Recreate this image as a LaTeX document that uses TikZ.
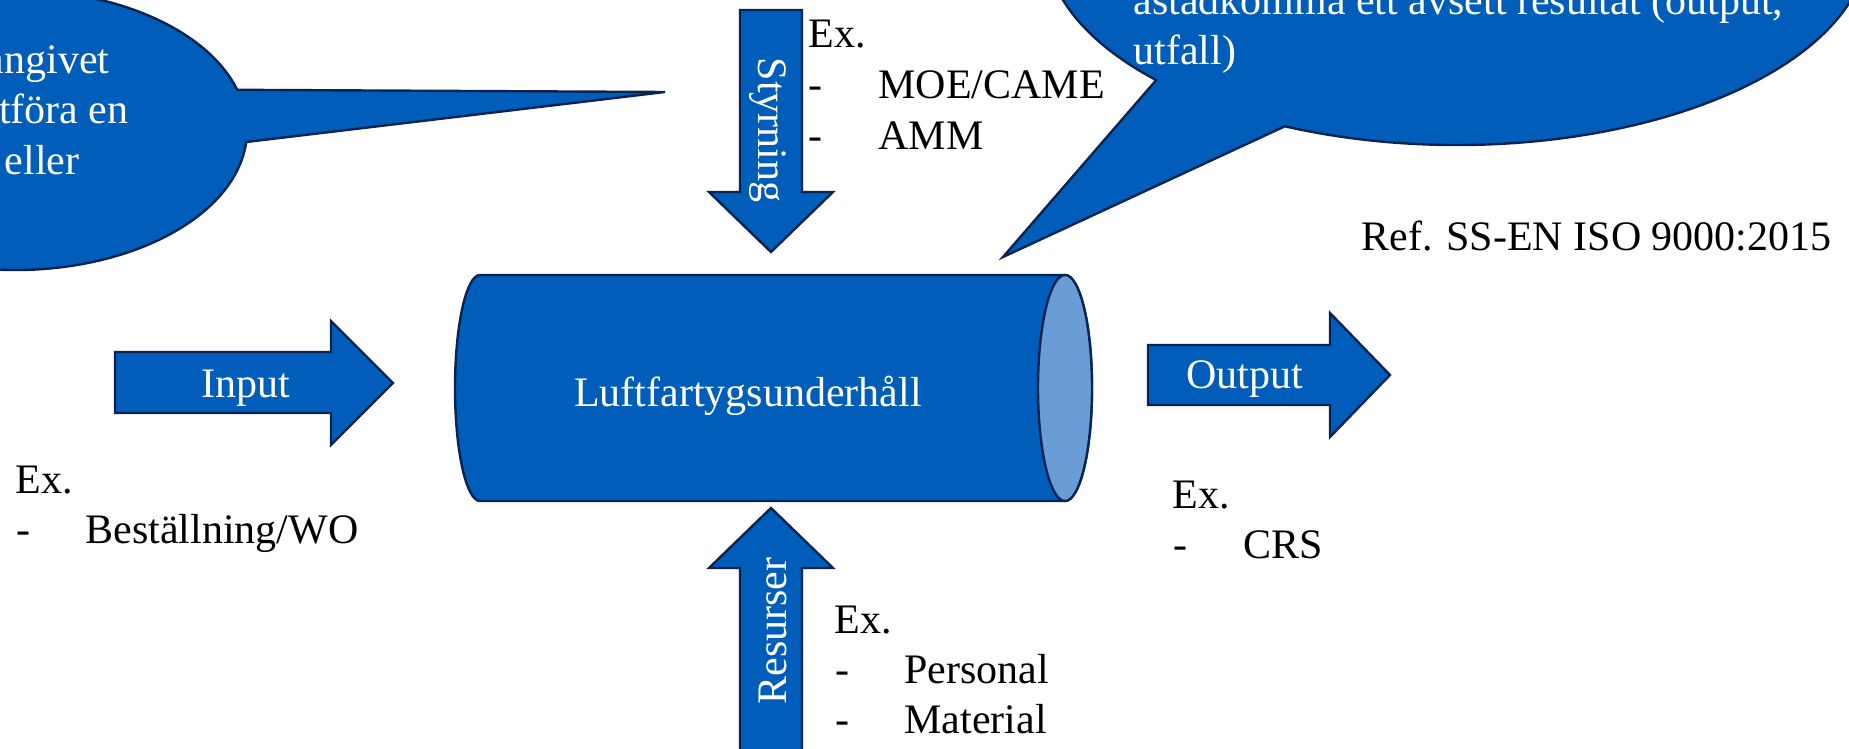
\documentclass[tikz,border=0pt]{standalone}
\usepackage{fontspec}
\setmainfont{Liberation Serif}
\definecolor{procblue}{RGB}{0,93,185}
\definecolor{procedge}{RGB}{10,36,82}
\definecolor{capblue}{RGB}{106,157,214}
\begin{document}
\begin{tikzpicture}[x=0.5pt,y=-0.5pt,
  blockshape/.style={fill=procblue,draw=procedge,line width=1.2pt,line join=miter},
  intext/.style={text=white,font=\fontsize{21}{25}\selectfont,inner sep=0pt},
  outtext/.style={text=black,font=\fontsize{21}{25}\selectfont,inner sep=0pt,anchor=base west},
]
\useasboundingbox (0,0) rectangle (1849,749);
\clip (0,0) rectangle (1849,749);

% speech bubble, upper left
\draw[blockshape] (246.2,142.0)
  arc[start angle=4.9,end angle=343.3,x radius=232,y radius=140]
  -- (665,92) -- cycle;
\node[intext,anchor=base east] (lb1) at (110,74) {angivet};
\node[intext,anchor=base east] (lb2) at (129,124) {utföra en};
\node[intext,anchor=base east] (lb3) at (80,175) {eller};

% speech bubble, upper right
\draw[blockshape] (1156.2,80.1)
  arc[start angle=136.9,end angle=474.7,x radius=412,y radius=205]
  -- (1003,257) -- cycle;
\node[intext,anchor=base west] (rb1) at (1133,15) {åstadkomma ett avsett resultat (output,};
\node[intext,anchor=base west] (rb2) at (1133,65) {utfall)};

% control arrow (down)
\draw[blockshape] (740,10) -- (802,10) -- (802,192) -- (833,192) -- (771,252)
  -- (709,192) -- (740,192) -- cycle;
\node[intext,anchor=base,rotate=-90] (styr) at (758,130) {Styrning};

% resource arrow (up)
\draw[blockshape] (740,770) -- (740,568) -- (709,568) -- (771,508) -- (833,568)
  -- (802,568) -- (802,770) -- cycle;
\node[intext,anchor=base,rotate=90] (res) at (786,631) {Resurser};

% input arrow
\draw[blockshape] (115,352) -- (331,352) -- (331,321) -- (393,383) -- (331,445)
  -- (331,413) -- (115,413) -- cycle;
\node[intext,anchor=base] (inp) at (245.5,397) {Input};

% output arrow
\draw[blockshape] (1148,345) -- (1330,345) -- (1330,313) -- (1390,375) -- (1330,437)
  -- (1330,405) -- (1148,405) -- cycle;
\node[intext,anchor=base] (outp) at (1244.5,388) {Output};

% process cylinder
\draw[blockshape] (1065,275) -- (480,275)
  arc[start angle=270,end angle=90,x radius=25,y radius=113]
  -- (1065,501)
  arc[start angle=90,end angle=-90,x radius=27,y radius=113] -- cycle;
\draw[fill=capblue,draw=procedge,line width=1.2pt] (1065,388) ellipse [x radius=27,y radius=113];
\node[intext,anchor=base] (proc) at (748,406) {Luftfartygsunderhåll};

% reference
\node[outtext] (ref) at (1361,250) {Ref. SS-EN ISO 9000:2015};

% examples: control
\node[outtext] (sx) at (808,48) {Ex.};
\node[outtext] (sd1) at (808,99) {-};
\node[outtext] (s1) at (878,99) {MOE/CAME};
\node[outtext] (sd2) at (808,150) {-};
\node[outtext] (s2) at (878,150) {AMM};

% examples: input
\node[outtext] (ix) at (15,493) {Ex.};
\node[outtext] (id1) at (16,543) {-};
\node[outtext] (i1) at (85,543) {Beställning/WO};

% examples: output
\node[outtext] (ox) at (1172,508) {Ex.};
\node[outtext] (od1) at (1173,558) {-};
\node[outtext] (o1) at (1243,558) {CRS};

% examples: resources
\node[outtext] (rx) at (834,633) {Ex.};
\node[outtext] (rd1) at (835,683) {-};
\node[outtext] (r1) at (904,683) {Personal};
\node[outtext] (rd2) at (835,733) {-};
\node[outtext] (r2) at (904,733) {Material};
\end{tikzpicture}
\end{document}
